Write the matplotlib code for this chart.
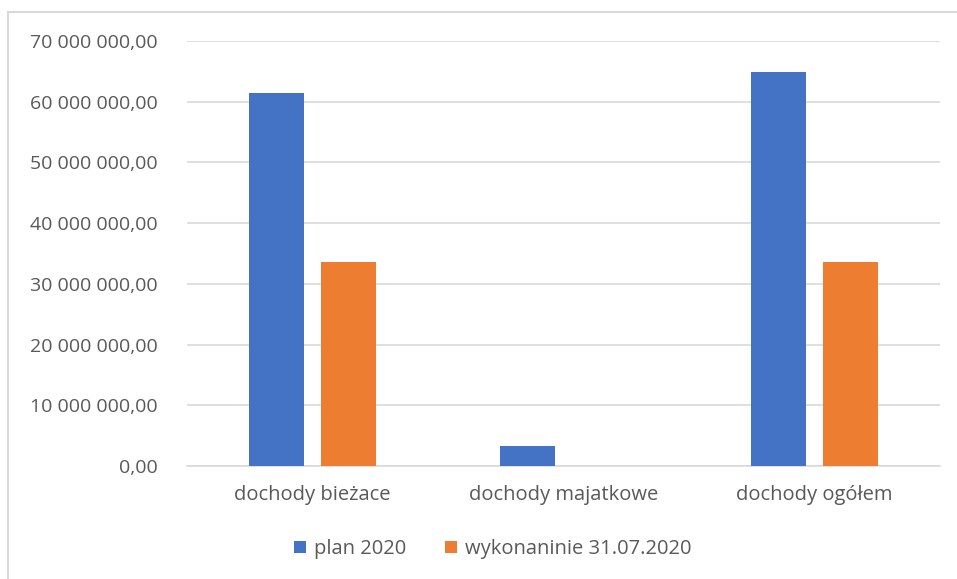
import matplotlib.pyplot as plt
from matplotlib.lines import Line2D
from matplotlib.ticker import FuncFormatter
import numpy as np

categories = ["dochody bieżace", "dochody majatkowe", "dochody ogółem"]
plan_2020 = [61500000, 3350000, 64900000]
wykonanie = [33600000, 0, 33650000]
series_names = ["plan 2020", "wykonaninie 31.07.2020"]

plt.rcParams['font.family'] = ['Open Sans', 'DejaVu Sans']
grey = '#595959'

fig = plt.figure(figsize=(9.57, 5.79), dpi=100)
ax = fig.add_axes([187 / 957, 1 - 466 / 579, (940 - 187) / 957, (466 - 41) / 579])

x = np.arange(len(categories))
w = 0.222
off = 0.143
ax.bar(x - off, plan_2020, w, color='#4472C4', label=series_names[0], zorder=3)
ax.bar(x + off, wykonanie, w, color='#ED7D31', label=series_names[1], zorder=3)

ax.set_xlim(-0.5, 2.5)
ax.set_ylim(0, 70000000)
ax.set_yticks(np.arange(0, 70000001, 10000000))
ax.yaxis.set_major_formatter(FuncFormatter(lambda v, p: f"{v:,.2f}".replace(",", " ").replace(".", ",")))
ax.set_xticks(x)
ax.set_xticklabels(categories, fontsize=14.5)
ax.grid(axis='y', color='#D9D9D9', linewidth=1.2, zorder=0)
for s in ['top', 'right', 'left']:
    ax.spines[s].set_visible(False)
ax.spines['bottom'].set_color('#D9D9D9')
ax.spines['bottom'].set_linewidth(1.2)
ax.tick_params(axis='both', length=0, colors=grey)
ax.tick_params(axis='y', pad=21, labelsize=14)
ax.tick_params(axis='x', pad=14)

fig.legend(loc='center', bbox_to_anchor=(493 / 957, 1 - 549 / 579), ncol=2, frameon=False,
           fontsize=14.5, labelcolor=grey, handlelength=0.6, handleheight=0.6,
           columnspacing=1.9, handletextpad=0.4)

# chart frame (left and top edges visible)
fig.add_artist(Line2D([8 / 957, 8 / 957], [0, 1 - 12 / 579], color='#D9D9D9', lw=1.5))
fig.add_artist(Line2D([8 / 957, 1], [1 - 12 / 579, 1 - 12 / 579], color='#D9D9D9', lw=1.5))

fig.savefig('out.png', dpi=100)
